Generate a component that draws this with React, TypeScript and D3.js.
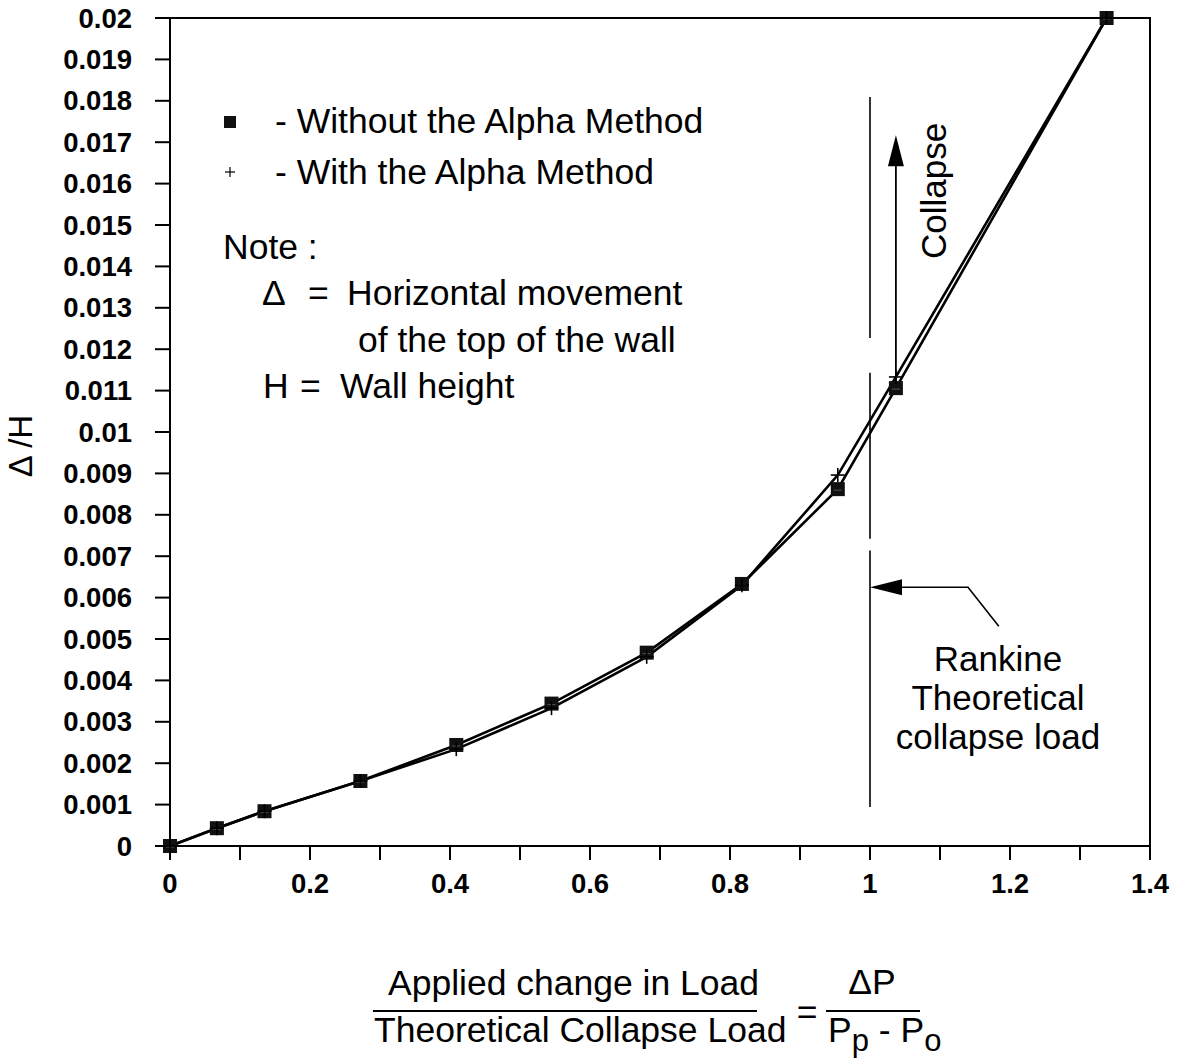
import React from 'react'
import * as d3 from 'd3'

// values
const loadRatio = [0, 0.067, 0.135, 0.272, 0.409, 0.545, 0.681, 0.817, 0.954, 1.037, 1.338]
const withoutAlpha = [0, 0.00043, 0.00084, 0.00157, 0.00244, 0.00344, 0.00467, 0.00633, 0.00862, 0.01106, 0.02]
const withAlpha = [0, 0.00043, 0.00084, 0.00157, 0.00234, 0.00333, 0.00457, 0.0063, 0.00896, 0.01133, 0.02]

const yTicks = d3.range(0, 21).map((i) => i / 1000)
const xTicks = d3.range(0, 15).map((i) => i / 10)
const xLabels = [0, 0.2, 0.4, 0.6, 0.8, 1, 1.2, 1.4]

// broken vertical line at the Rankine load (ratio = 1)
const rankineX = 1
const rankineSegments = [
  [0.01809, 0.01227],
  [0.01143, 0.00742],
  [0.00714, 0.00094],
]

const W = 1182
const H = 1062
const FONT = "'Liberation Sans', Arial, Helvetica, sans-serif"
const FS = 35.5

export default function App() {
  const x = d3.scaleLinear().domain([0, 1.4]).range([170, 1150])
  const y = d3.scaleLinear().domain([0, 0.02]).range([846, 18])

  const line = d3
    .line<number>()
    .x((d, i) => x(loadRatio[i]))
    .y((d) => y(d))

  const fmtY = (v: number) => String(+v.toFixed(3))
  const fmtX = (v: number) => String(+v.toFixed(1))

  // arrows
  const collapseX = x(1.037)
  const collapseY0 = y(0.0112)
  const collapseTip = y(0.01717)
  const rankTipY = y(0.00625)
  const rankElbow = x(1.14)

  return (
    <svg
      width={W}
      height={H}
      style={{ position: 'absolute', left: 0, top: 0, background: '#fff' }}
      fontFamily={FONT}
    >
      <rect x={0} y={0} width={W} height={H} fill="#fff" />

      {/* frame */}
      <rect
        x={x(0)}
        y={y(0.02)}
        width={x(1.4) - x(0)}
        height={y(0) - y(0.02)}
        fill="none"
        stroke="#000"
        strokeWidth={2}
      />

      {/* y axis */}
      {yTicks.map((t) => (
        <g key={'y' + t}>
          <line x1={x(0) - 15} x2={x(0)} y1={y(t)} y2={y(t)} stroke="#000" strokeWidth={2} />
          <text
            x={132}
            y={y(t)}
            dy="0.35em"
            textAnchor="end"
            fontSize={27.5}
            fontWeight="bold"
          >
            {fmtY(t)}
          </text>
        </g>
      ))}

      {/* x axis */}
      {xTicks.map((t) => (
        <line
          key={'x' + t}
          x1={x(t)}
          x2={x(t)}
          y1={y(0)}
          y2={y(0) + 14}
          stroke="#000"
          strokeWidth={2}
        />
      ))}
      {xLabels.map((t) => (
        <text key={'xl' + t} x={x(t)} y={893} textAnchor="middle" fontSize={27.5} fontWeight="bold">
          {fmtX(t)}
        </text>
      ))}

      {/* y title */}
      <text transform="translate(32,446) rotate(-90)" textAnchor="middle" fontSize={33}>
        Δ /H
      </text>

      {/* x title as a fraction */}
      <text x={388} y={995} fontSize={FS}>
        Applied change in Load
      </text>
      <line x1={373} x2={757} y1={1011} y2={1011} stroke="#000" strokeWidth={2} />
      <text x={374} y={1042} fontSize={FS}>
        Theoretical Collapse Load
      </text>
      <text x={807} y={1024} textAnchor="middle" fontSize={FS}>
        =
      </text>
      <text x={872} y={994} textAnchor="middle" fontSize={FS}>
        ΔP
      </text>
      <line x1={826} x2={920} y1={1011} y2={1011} stroke="#000" strokeWidth={2} />
      <text x={828} y={1042} fontSize={FS}>
        P
        <tspan dy={9} fontSize={31}>p</tspan>
        <tspan dy={-9} fontSize={FS}> - P</tspan>
        <tspan dy={9} fontSize={31}>o</tspan>
      </text>

      {/* Rankine reference line */}
      {rankineSegments.map((s, i) => (
        <line
          key={'r' + i}
          x1={x(rankineX)}
          x2={x(rankineX)}
          y1={y(s[0])}
          y2={y(s[1])}
          stroke="#000"
          strokeWidth={1.6}
        />
      ))}

      {/* series lines */}
      <path d={line(withoutAlpha) || ''} fill="none" stroke="#000" strokeWidth={2.6} />
      <path d={line(withAlpha) || ''} fill="none" stroke="#000" strokeWidth={2.6} />

      {/* markers */}
      {withoutAlpha.map((v, i) => (
        <g key={'s' + i}>
          <rect x={x(loadRatio[i]) - 7} y={y(v) - 7} width={14} height={14} fill="#111" />
          <line
            x1={x(loadRatio[i]) - 4}
            x2={x(loadRatio[i]) + 4}
            y1={y(v) + 1}
            y2={y(v) + 1}
            stroke="#666"
            strokeWidth={0.8}
          />
        </g>
      ))}
      {withAlpha.map((v, i) => (
        <g key={'p' + i} stroke="#000" strokeWidth={1.6}>
          <line x1={x(loadRatio[i]) - 7} x2={x(loadRatio[i]) + 7} y1={y(v)} y2={y(v)} />
          <line x1={x(loadRatio[i])} x2={x(loadRatio[i])} y1={y(v) - 7} y2={y(v) + 7} />
        </g>
      ))}

      {/* collapse arrow */}
      <line
        x1={collapseX}
        x2={collapseX}
        y1={collapseY0}
        y2={collapseTip + 20}
        stroke="#000"
        strokeWidth={1.8}
      />
      <path
        d={`M${collapseX},${collapseTip} L${collapseX - 8},${collapseTip + 31} L${collapseX + 8},${collapseTip + 31} Z`}
        fill="#000"
      />
      <text transform={`translate(946,191) rotate(-90)`} textAnchor="middle" fontSize={35}>
        Collapse
      </text>

      {/* Rankine arrow and label */}
      <path
        d={`M${x(rankineX) + 20},${rankTipY} L${rankElbow},${rankTipY} L${x(1.184)},${y(0.00531)}`}
        fill="none"
        stroke="#000"
        strokeWidth={1.6}
      />
      <path
        d={`M${x(rankineX)},${rankTipY} L${x(rankineX) + 32},${rankTipY - 8} L${x(rankineX) + 32},${rankTipY + 8} Z`}
        fill="#000"
      />
      <text x={998} y={671} textAnchor="middle" fontSize={35}>
        Rankine
      </text>
      <text x={998} y={710} textAnchor="middle" fontSize={35}>
        Theoretical
      </text>
      <text x={998} y={749} textAnchor="middle" fontSize={35}>
        collapse load
      </text>

      {/* legend */}
      <rect x={224} y={116} width={12} height={12} fill="#111" />
      <text x={275} y={133} fontSize={FS}>
        - Without the Alpha Method
      </text>
      <g stroke="#000" strokeWidth={1.2}>
        <line x1={225} x2={235} y1={172} y2={172} />
        <line x1={230} x2={230} y1={167} y2={177} />
      </g>
      <text x={275} y={184} fontSize={FS}>
        - With the Alpha Method
      </text>

      {/* note */}
      <text x={223} y={259} fontSize={FS}>
        Note :
      </text>
      <text x={262} y={305} fontSize={FS}>
        Δ
      </text>
      <text x={308} y={305} fontSize={FS}>
        =
      </text>
      <text x={347} y={305} fontSize={FS}>
        Horizontal movement
      </text>
      <text x={358} y={352} fontSize={FS}>
        of the top of the wall
      </text>
      <text x={263} y={398} fontSize={FS}>
        H
      </text>
      <text x={300} y={398} fontSize={FS}>
        =
      </text>
      <text x={340} y={398} fontSize={FS}>
        Wall height
      </text>
    </svg>
  )
}
